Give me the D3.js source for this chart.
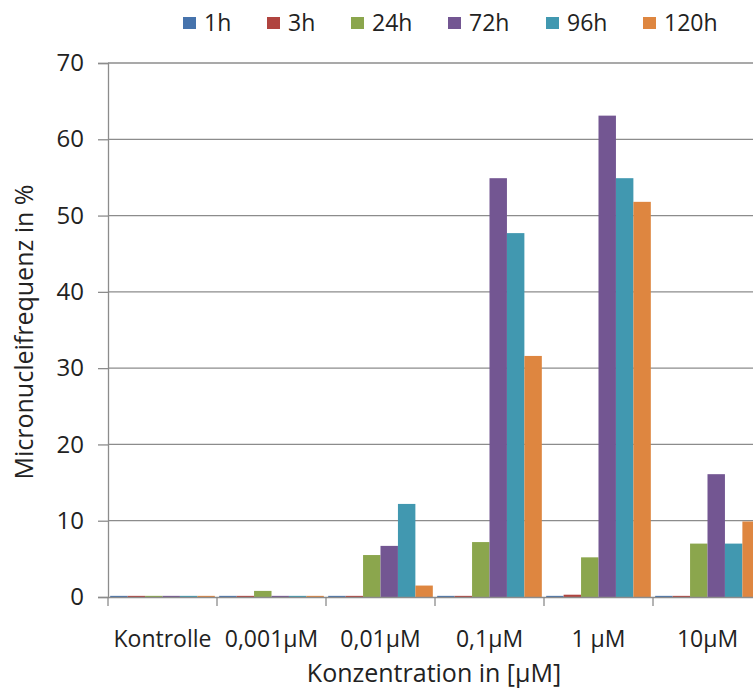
<!DOCTYPE html>
<html><head><meta charset="utf-8">
<script src="https://cdn.jsdelivr.net/npm/d3@7"></script>
<style>body{margin:0;background:#fff}svg{display:block}text{font-family:"Open Sans",sans-serif;fill:#222}</style>
</head><body>
<svg id="c" width="753" height="689"></svg>
<script>
const categories = ["Kontrolle","0,001µM","0,01µM","0,1µM","1 µM","10µM"];
const seriesNames = ["1h","3h","24h","72h","96h","120h"];
const colors = ["#4673AC","#B0443F","#8BA64D","#735692","#4198B0","#DE8640"];
const v1h   = [0.15,0.15,0.15,0.15,0.15,0.15];
const v3h   = [0.15,0.15,0.15,0.15,0.3,0.15];
const v24h  = [0.15,0.8,5.5,7.2,5.2,7.0];
const v72h  = [0.15,0.15,6.7,54.9,63.1,16.1];
const v96h  = [0.15,0.15,12.2,47.7,54.9,7.0];
const v120h = [0.15,0.15,1.5,31.6,51.8,9.9];
const yTicks = [0,10,20,30,40,50,60,70];
const values = [v1h,v3h,v24h,v72h,v96h,v120h];

const svg = d3.select("#c");
const L=108,R=762,T=63,B=597;
const x0 = d3.scaleBand().domain(categories).range([L,R]).paddingInner(0).paddingOuter(0);
const x1 = d3.scaleBand().domain(seriesNames).range([0,x0.bandwidth()]).paddingInner(0).paddingOuter(0.125);
const y = d3.scaleLinear().domain([0,70]).range([B,T]);

// gridlines
svg.append("g").selectAll("line").data(yTicks.filter(d=>d>0)).join("line")
  .attr("x1",L).attr("x2",R).attr("y1",d=>y(d)).attr("y2",d=>y(d))
  .attr("stroke","#8c8c8c").attr("stroke-width",1.3);

// bars
const g = svg.append("g");
categories.forEach((c,ci)=>{
  seriesNames.forEach((s,si)=>{
    const val = values[si][ci];
    g.append("rect").attr("x",x0(c)+x1(s)).attr("width",x1.bandwidth())
      .attr("y",y(val)).attr("height",B-y(val)).attr("fill",colors[si]);
  });
});

// y axis
const ya = svg.append("g").attr("transform",`translate(${L},0)`)
  .call(d3.axisLeft(y).tickValues(yTicks).tickSize(10).tickPadding(14));
ya.select(".domain").attr("stroke","#8c8c8c").attr("stroke-width",1.3);
ya.selectAll(".tick line").attr("stroke","#8c8c8c").attr("stroke-width",1.3);
ya.selectAll(".tick text").style("font-size","24px").attr("fill","#222");

// x axis
const xa = svg.append("g").attr("transform",`translate(0,${B})`)
  .call(d3.axisBottom(x0).tickSize(0).tickPadding(0));
xa.select(".domain").attr("stroke","#8c8c8c").attr("stroke-width",1.3);
xa.selectAll(".tick text").style("font-size","23px").attr("fill","#222").attr("dy",null).attr("y",50);
xa.selectAll(".sep").data(categories).join("line").attr("class","sep")
  .attr("x1",d=>x0(d)).attr("x2",d=>x0(d)).attr("y1",0).attr("y2",9)
  .attr("stroke","#8c8c8c").attr("stroke-width",1.3);

// axis titles
svg.append("text").attr("x",434).attr("y",682).attr("text-anchor","middle")
  .style("font-size","25px").text("Konzentration in [µM]");
svg.append("text").attr("transform","translate(33,332) rotate(-90)").attr("text-anchor","middle")
  .style("font-size","25px").text("Micronucleifrequenz in %");

// legend
const legX = [183,267,351,448,546,643];
const lg = svg.append("g");
seriesNames.forEach((s,i)=>{
  lg.append("rect").attr("x",legX[i]).attr("y",17).attr("width",13).attr("height",12).attr("fill",colors[i]);
  lg.append("text").attr("x",legX[i]+21).attr("y",31).style("font-size","23px").text(s);
});
</script>
</body></html>
